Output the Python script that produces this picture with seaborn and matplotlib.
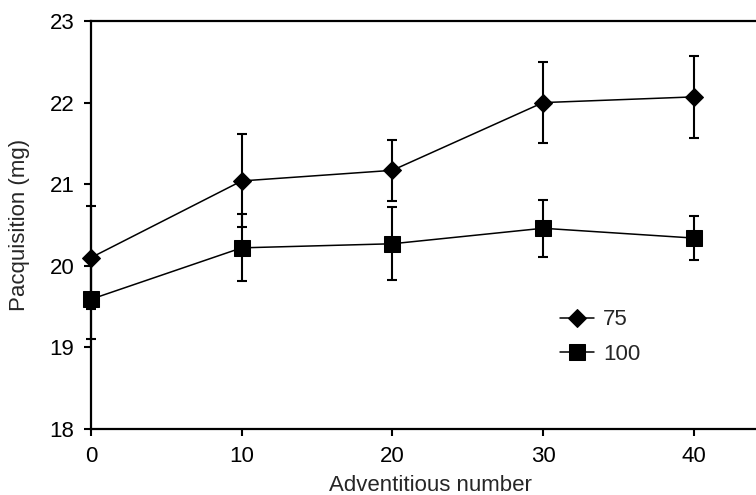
import matplotlib
matplotlib.use("Agg")
import matplotlib.pyplot as plt
import seaborn as sns
import pandas as pd

# Adventitious number on the x axis
adventitious = [0, 10, 20, 30, 40]

# Mean Pacquisition (mg) and its error for each group
series_names = ["75", "100"]
mean_75 = [20.10, 21.04, 21.17, 22.00, 22.07]
err_75 = [0.63, 0.57, 0.37, 0.50, 0.50]
mean_100 = [19.59, 20.22, 20.27, 20.46, 20.34]
err_100 = [0.49, 0.41, 0.45, 0.35, 0.27]

y_ticks = [18, 19, 20, 21, 22, 23]
x_ticks = [0, 10, 20, 30, 40]

df = pd.DataFrame({
    "x": adventitious * 2,
    "y": mean_75 + mean_100,
    "err": err_75 + err_100,
    "group": [series_names[0]] * 5 + [series_names[1]] * 5,
})

sns.set_style("ticks")
plt.rcParams["font.family"] = ["Liberation Sans", "DejaVu Sans"]

FS = 16
D_SIZE = 9.5
S_SIZE = 12

fig = plt.figure(figsize=(7.56, 4.95), dpi=100)
ax = fig.add_axes([91 / 756, 66 / 495, (769 - 91) / 756, (474 - 66) / 495])

# error bars first, so the markers sit on top
for name in series_names:
    sub = df[df["group"] == name]
    _, caps, bars = ax.errorbar(sub["x"], sub["y"], yerr=sub["err"], fmt="none",
                                ecolor="black", elinewidth=1.5, capsize=3.5,
                                capthick=1.5, zorder=2)
    for c in caps:
        c.set_clip_on(False)
    for b in bars:
        b.set_clip_on(False)

sns.lineplot(data=df, x="x", y="y", style="group", hue="group",
             palette={"75": "black", "100": "black"},
             markers={"75": "D", "100": "s"},
             dashes={"75": "", "100": ""},
             markersize=10, linewidth=1.1, markeredgecolor="black",
             ax=ax, zorder=3)

ax.set_xlim(0, 45)
ax.set_ylim(18, 23)
ax.set_xticks(x_ticks)
ax.set_yticks(y_ticks)
ax.tick_params(axis="both", direction="out", length=5, width=1.5,
               labelsize=FS, pad=7, color="black", labelcolor="black")

for side in ["left", "bottom", "top"]:
    ax.spines[side].set_linewidth(1.6)
    ax.spines[side].set_color("black")
ax.spines["right"].set_visible(False)

ax.set_xlabel("Adventitious number", fontsize=FS, labelpad=6)
ax.set_ylabel("Pacquisition (mg)", fontsize=FS, labelpad=14)

# per-series marker sizes; markers at x=0 are drawn over the axis line
for line in ax.get_lines():
    line.set_clip_on(False)
    if line.get_marker() == "D":
        line.set_markersize(D_SIZE)
    elif line.get_marker() == "s":
        line.set_markersize(S_SIZE)

handles, labels = ax.get_legend_handles_labels()
for h in handles:
    if h.get_marker() == "D":
        h.set_markersize(D_SIZE)
    elif h.get_marker() == "s":
        h.set_markersize(S_SIZE)
ax.legend(handles, labels, loc="upper left", bbox_to_anchor=(0.678, 0.315),
          frameon=False, fontsize=FS, handlelength=1.55, handletextpad=0.4,
          labelspacing=0.6, borderaxespad=0)

fig.savefig("out.png", dpi=100)
